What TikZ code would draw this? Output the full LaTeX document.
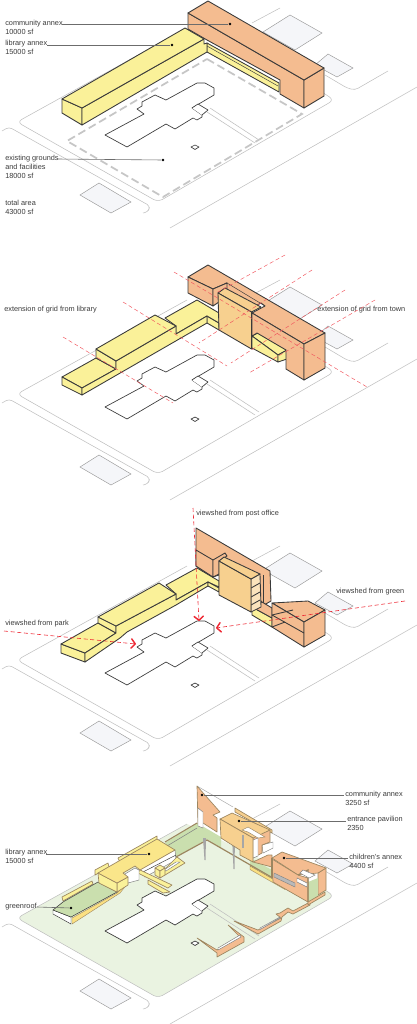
\documentclass[tikz,border=0pt]{standalone}
\usepackage{fontspec}
\setmainfont{Liberation Sans}
\usetikzlibrary{arrows.meta}
\definecolor{annex}{HTML}{F4BC90}
\definecolor{libyel}{HTML}{FAF199}
\definecolor{pavil}{HTML}{F7D08F}
\definecolor{roofgrn}{HTML}{CADFAE}
\definecolor{lotgrn}{HTML}{EAF3E1}
\definecolor{blockgry}{HTML}{F5F6F9}
\definecolor{brownw}{HTML}{9C8660}
\definecolor{viewred}{HTML}{EE2A35}
\definecolor{inkk}{HTML}{3A3A3A}
\newcommand{\sitebase}[2]{%
  \begin{scope}[shift={(0,#1)}]
    \draw[lot, fill=#2] (187,28) -- (17,122) -- (158,202) -- (334,100) -- (322,92);
    \draw[road] (280,8) -- (252,23);
    \draw[road] (2,131) -- (9,127) -- (150,206) -- (148,212) -- (143,213);
    \draw[road] (170,228) -- (417,87);
    \draw[road] (388,71) -- (355,90) -- (347,88) -- (325,75);
    \draw[road] (207,112) -- (255,143);
    \draw[road] (210,108) -- (259,140);
    \draw[blockk] (290,15) -- (322,33) -- (295,50) -- (263,32) -- cycle;
    \draw[blockk] (328,54) -- (353,68) -- (337,77) -- (315,65) -- cycle;
    \draw[blockk] (99,183) -- (131,202) -- (111,213) -- (80,195) -- cycle;
    \draw[foot] (105,135) -- (127,147) -- (166,124) -- (175,129) -- (193,118) -- (197,120) -- (202,117) -- (202,115) -- (192,108) -- (214,95) -- (214,88) -- (205,83) -- (197,83) -- (166,100) -- (155,95) -- (142,102) -- (142,106) -- (137,109) -- (144,114) -- cycle;
    \draw[foot] (192,108) -- (198,104) -- (208,110) -- (202,115);
    \draw[foot] (191,147) -- (195,145) -- (199,147) -- (195,149.5) -- cycle;
  \end{scope}}
\begin{document}
\begin{tikzpicture}[x=0.75pt, y=-0.75pt, >=Stealth]
    \tikzset{
        lot/.style={draw=gray!50, line width=0.4pt, rounded corners=4pt},
        road/.style={draw=gray!50, line width=0.4pt, rounded corners=2.5pt},
        blockk/.style={draw=gray!80, line width=0.35pt, fill=blockgry},
        foot/.style={draw=inkk, line width=0.5pt, fill=white, line join=round},
        mass/.style={draw=inkk, line width=0.65pt, line join=round},
        annexf/.style={mass, fill=annex},
        yelf/.style={mass, fill=libyel},
        pavf/.style={mass, fill=pavil},
        thinw/.style={draw=inkk, line width=0.35pt},
        yelthin/.style={draw=brownw, line width=0.5pt, fill=libyel, line join=round},
        grnf/.style={draw=inkk, line width=0.4pt, fill=roofgrn, line join=round},
        wallf/.style={draw=brownw, line width=0.5pt, fill=annex, line join=round},
        pavthin/.style={wallf, fill=pavil},
        whitef/.style={draw=gray, line width=0.35pt, fill=white},
        lbl/.style={anchor=west, align=left, inner sep=0pt, text=inkk,
            font=\fontsize{5.5}{6.8}\selectfont},
        leader/.style={draw=gray!85!black, line width=0.45pt},
        pin/.style={circle, fill=black, inner sep=0pt, minimum size=2pt},
        gridline/.style={draw=viewred!80, line width=0.35pt, densely dashed},
        viewline/.style={draw=viewred, line width=0.45pt, densely dashed,
            -{Straight Barb[length=3pt, width=7pt, line width=1.1pt, round]}},
    }
    \useasboundingbox (0,0) rectangle (417,1024);

    \sitebase{0}{white}
    \draw[draw=gray!45, line width=1.3pt, dash pattern=on 6pt off 3pt] (207,59) -- (302,114) -- (163,197) -- (67,141) -- cycle;
    \draw[annexf] (188,13) -- (304,80) -- (304,108) -- (280,94) -- (280,80) -- (207,40) -- (188,29) -- cycle;
    \draw[annexf] (304,80) -- (324,68) -- (324,96) -- (304,108) -- cycle;
    \draw[annexf] (188,13) -- (208,1) -- (324,68) -- (304,80) -- cycle;
    \draw[yelf] (207,43) -- (279,83) -- (279,92) -- (207,52) -- cycle;
    \draw[thinw] (207,46) -- (278,86);
    \draw[yelf] (62,99) -- (82,108) -- (82,125) -- (62,113) -- cycle;
    \draw[yelf] (82,108) -- (204,39) -- (204,44) -- (207,43) -- (207,52) -- (82,125) -- cycle;
    \draw[yelf] (62,99) -- (185,28) -- (204,39) -- (82,108) -- cycle;

    \node[lbl] (comm) at (5,27.5) {community annex\\10000 sf};
    \node[lbl] (lib) at (5,47.5) {library annex\\15000 sf};
    \node[lbl] (exist) at (5,167) {existing grounds\\and facilities\\18000 sf};
    \node[lbl] at (5,207.5) (total) {total area\\43000 sf};
    \node[pin] (commpin) at (230,24) {};
    \node[pin] (libpin) at (172,45) {};
    \node[pin] (existpin) at (163,160) {};
    \coordinate (commend) at (62,24);
    \coordinate (libend) at (47,45);
    \coordinate (existend) at (57,159);
    \draw[leader] (commend) -- (commpin);
    \draw[leader] (libend) -- (libpin);
    \draw[leader] (existend) -- (existpin);

    \sitebase{272}{white}
    \draw[yelf] (62,377) -- (96,358) -- (116,369) -- (82,388) -- cycle;
    \draw[yelf] (62,377) -- (82,388) -- (82,395) -- (62,385) -- cycle;
    \draw[yelf] (207,316) -- (219,323) -- (219,330) -- (207,323) -- cycle;
    \draw[yelf] (165,318) -- (197,300) -- (219,313) -- (219,323) -- (207,316) -- (176,334) -- (176,326) -- cycle;
    \draw[yelf] (96,349) -- (116,361) -- (116,369) -- (96,358) -- cycle;
    \draw[yelf] (82,388) -- (116,369) -- (116,361) -- (176,326) -- (176,334) -- (207,316) -- (207,323) -- (82,395) -- cycle;
    \draw[yelf] (96,349) -- (155,315) -- (176,326) -- (116,361) -- cycle;
    \draw[yelf] (252,336) -- (258,333) -- (287,350) -- (278,355) -- cycle;
    \draw[yelf] (252,336) -- (278,355) -- (278,362) -- (252,348) -- cycle;
    \draw[yelf] (278,355) -- (287,350) -- (287,359) -- (278,362) -- cycle;
    \draw[annexf] (208,265) -- (325,333) -- (304,344) -- (252,313) -- (265,306) -- (261,303) -- (250,309) -- (218,293) -- (225,288) -- (227,283) -- (213,289) -- (188,277) -- cycle;
    \draw[annexf] (188,277) -- (213,289) -- (213,306) -- (188,293) -- cycle;
    \draw[annexf] (213,289) -- (227,283) -- (227,290) -- (219,296) -- (219,302) -- (213,306) -- cycle;
    \draw[annexf] (252,313) -- (304,344) -- (304,380) -- (286,369) -- (286,350) -- (257,333) -- (252,336) -- cycle;
    \draw[annexf] (304,344) -- (325,333) -- (325,368) -- (304,380) -- cycle;
    \draw[pavf] (218,293) -- (225,288) -- (261,307) -- (251.5,312) -- cycle;
    \draw[pavf] (218,293) -- (251.5,312) -- (251.5,349) -- (219,330) -- cycle;
    \draw[thinw] (225,283) -- (227,283) -- (265,306);
    \node[lbl] (gridlib) at (4,309.5) {extension of grid from library};
    \node[lbl] (gridtown) at (317,309.5) {extension of grid from town};
    \foreach \ax/\ay/\bx/\by in {285/255/218/292, 312/270/199/343, 345/290/231/363, 375/300/249/373, 174/272/367/387, 123/302/227/366, 63/337/173/403}
        \draw[gridline] (\ax,\ay) -- (\bx,\by);

    \sitebase{538}{white}
    \draw[yelf] (61,644) -- (85,653) -- (85,662) -- (61,653) -- cycle;
    \draw[yelf] (61,644) -- (98,623) -- (116,633) -- (85,653) -- cycle;
    \draw[yelf] (166,585) -- (197,568) -- (219,581) -- (219,587) -- (208,582) -- (176,600) -- (176,594) -- cycle;
    \draw[yelf] (98,617) -- (116,626) -- (116,633) -- (98,623) -- cycle;
    \draw[yelf] (85,653) -- (116,633) -- (116,626) -- (176,594) -- (176,600) -- (208,582) -- (208,586) -- (176,605) -- (127,632) -- (120,638) -- (85,662) -- cycle;
    \draw[mass, fill=libyel] (208,582) -- (219,588) -- (219,592) -- (208,586) -- cycle;
    \draw[yelf] (98,617) -- (159,583) -- (176,594) -- (116,626) -- cycle;
    \draw[annexf] (196,528) -- (270,571) -- (271,601) -- (264,605) -- (261,601) -- (219,575) -- (213,577) -- (196,566) -- cycle;
    \draw[annexf] (196,550) -- (213,560) -- (213,577) -- (196,566) -- cycle;
    \draw[annexf] (213,560) -- (225,553) -- (227,556) -- (219,561) -- (219,574) -- (213,577) -- cycle;
    \draw[mass] (263,575) -- (263,604);
    \draw[yelf] (252,607) -- (272,618) -- (272,627) -- (252,615) -- cycle;
    \draw[annexf] (252,607) -- (262,602) -- (272,608) -- (272,618) -- cycle;
    \draw[mass, fill=pavil!60!white] (251,579) -- (260,574) -- (261,607) -- (251,612) -- cycle;
    \foreach \sy in {9,18,26}
        \draw[mass] (251,579+\sy) -- (260,574+\sy);
    \draw[pavf] (219,561) -- (251,579) -- (251,612) -- (219,595) -- cycle;
    \draw[pavf] (219,561) -- (224,557) -- (260,574) -- (251,579) -- cycle;
    \draw[annexf] (272,603) -- (308,601) -- (325,610) -- (304,622) -- cycle;
    \draw[annexf] (272,603) -- (304,622) -- (304,647) -- (272,627) -- cycle;
    \draw[annexf] (304,622) -- (325,610) -- (325,635) -- (304,647) -- cycle;
    \draw[mass] (272,615) -- (304,633);
    \draw[mass] (272,615) -- (293,610);
    \draw[mass] (272,627) -- (285,622);
    \node[lbl] (postlbl) at (196,514) {viewshed from post office};
    \node[lbl] (greenlbl) at (336,592) {viewshed from green};
    \node[lbl] (parklbl) at (5,624) {viewshed from park};
    \coordinate (poststart) at (193,508);
    \coordinate (posthit) at (199,621);
    \coordinate (greenstart) at (405,601);
    \coordinate (greenhit) at (216,628);
    \coordinate (parkstart) at (4,631);
    \coordinate (parkhit) at (136,644);
    \draw[viewline] (poststart) -- (posthit);
    \draw[viewline] (greenstart) -- (greenhit);
    \draw[viewline] (parkstart) -- (parkhit);

    \sitebase{796}{lotgrn}
    \fill[roofgrn] (165,843) -- (197,823) -- (221,837) -- (221,848) -- (207,839) -- (176,857) -- cycle;
    \fill[roofgrn] (250,858) -- (272,870) -- (272,880) -- (250,868) -- cycle;
    \draw[brownw, line width=0.9pt] (176,857) -- (207,840) -- (285,885);
    \draw[draw=brownw, line width=0.3pt, fill=libyel!85!orange] (250,866) -- (285,886) -- (285,889.5) -- (250,869.5) -- cycle;
    \draw[draw=brownw, line width=0.8pt] (165,842) -- (197,823);
    \draw[draw=gray, line width=0.4pt] (167,846) -- (197,828);
    % far strips on the library roof
    \draw[yelthin] (62,897) -- (92,881) -- (93,884) -- (63,901) -- cycle;
    \draw[yelthin] (95,870) -- (108,863) -- (109,867) -- (95,875) -- cycle;
    \draw[yelthin] (118,858) -- (157,836) -- (157,840) -- (120,862) -- cycle;
    % court side of the library
    \draw[whitef, fill=white] (140,868) -- (175,850) -- (176,860) -- (145,877) -- cycle;
    \draw[thinw] (143,872) -- (176,855);
    \draw[yelthin] (164,870) -- (177,857) -- (185,863) -- (165,875) -- (160,873) -- cycle;
    \draw[whitef] (164,870) -- (176,862) -- (180,862) -- (166,871) -- cycle;
    \draw[yelthin] (155,868) -- (160,865) -- (165,868) -- (160,871) -- cycle;
    \draw[yelthin] (155,868) -- (160,871) -- (160,878) -- (155,875) -- cycle;
    \draw[yelthin] (160,871) -- (165,868) -- (165,875) -- (160,878) -- cycle;
    \draw[yelthin] (140,870) -- (172,885) -- (168,888) -- (138,873) -- cycle;
    \draw[yelthin] (148,880) -- (170,892) -- (163,893) -- (148,884) -- cycle;
    % low green roof and main yellow roof
    \draw[draw=brownw, line width=0.3pt, fill=libyel!85!orange] (72,918) -- (117,893) -- (123,887) -- (128,880) -- (128,883) -- (120,893) -- (72,924) -- cycle;
    \draw[whitef, draw=inkk] (53,910) -- (71,917) -- (71,924) -- (53,914) -- cycle;
    \draw[grnf] (53,910) -- (63,902) -- (98,882) -- (117,892) -- (71,917) -- cycle;
    \draw[whitef] (125,874) -- (135,868) -- (139,870) -- (139,880) -- (128,883) -- cycle;
    \draw[yelthin] (117,883) -- (128,877) -- (128,885) -- (117,892) -- cycle;
    \draw[yelthin] (98,873) -- (117,883) -- (117,892) -- (99,883) -- cycle;
    \draw[yelthin, fill=libyel!90!orange] (98,873) -- (157,839) -- (175,850) -- (140,870) -- (135,866) -- (123,873) -- (128,877) -- (117,883) -- cycle;
    % pavilion, wall and trees
    \foreach \cx/\cy/\cb in {203/838/860, 232/836/869}
        \fill[gray!70] (\cx,\cy) -- (\cx+3,\cy) -- (\cx+2.5,\cb) -- (\cx+1.5,\cb) -- cycle;
    \draw[draw=gray!70, line width=0.35pt] (197,786) -- (233,807);
    \draw[wallf] (197,786) -- (220,812) -- (213,815) -- (217,818) -- (217,832) -- (203,823) -- (198,824) -- cycle;
    \draw[whitef] (198,808) -- (203,812) -- (203,828) -- (198,826) -- cycle;
    \draw[pavthin] (235,808) -- (272,830) -- (272,833) -- (235,812) -- cycle;
    \draw[whitef] (247,821) -- (262,830) -- (260,831) -- (246,823) -- cycle;
    \draw[whitef] (262,845) -- (273,842) -- (273,848) -- (263,853) -- cycle;
    \draw[wallf] (253,862) -- (268,855) -- (272,855) -- (272,867) -- cycle;
    \draw[wallf] (253,837) -- (270,830) -- (270,842) -- (262,845) -- (262,853) -- (253,858) -- cycle;
    \draw[whitef] (253,840) -- (258,838) -- (258,856) -- (253,858) -- cycle;
    \draw[pavthin] (220,819) -- (232,813) -- (270,830) -- (253,838) -- cycle;
    \draw[pavthin] (220,819) -- (253,838) -- (253,862) -- (240,855) -- (240,850) -- (221,838) -- cycle;
    \draw[whitef, draw=brownw] (242,830) -- (248,827) -- (265,837) -- (258,838) -- (248,832) -- cycle;
    \fill[gray!70] (242,835) rectangle (244,848);
    % childrens annex
    \draw[wallf] (318,873) -- (326,868) -- (326,890) -- (318,895) -- cycle;
    \fill[roofgrn] (308,882) -- (318,878) -- (318,897) -- (308,902) -- cycle;
    \draw[wallf] (272,858) -- (282,852) -- (326,868) -- (318,873) -- (298,875) -- cycle;
    \draw[wallf] (272,859) -- (298,875) -- (308,878) -- (308,902) -- (273,882) -- cycle;
    \draw[draw=brownw, line width=0.9pt] (272,858) -- (272,878);
    \draw[draw=brownw, line width=0.9pt] (298,875) -- (308,870) -- (308,902);
    \draw[whitef] (303,870) -- (315,875) -- (309,878) -- (300,873) -- cycle;
    \draw[whitef] (297,878) -- (307,883) -- (307,887) -- (297,882) -- cycle;
    \draw[draw=gray, fill=gray!55, line width=0.3pt] (274,873) -- (295,883) -- (295,887) -- (274,877) -- cycle;
    % low walls in the grounds
    \draw[wallf] (197,938) -- (217,950) -- (240,937) -- (228,925) -- (244,937) -- (244,942) -- (217,957) -- (217,953) -- cycle;
    \draw[whitef] (218,948) -- (240,935) -- (241,937) -- (218,950) -- cycle;
    \draw[wallf] (234,921) -- (258,930) -- (281,918) -- (276,914) -- (280,913) -- (288,908) -- (293,911) -- (310,902) -- (310,905) -- (293,914) -- (288,912) -- (282,917) -- (281,921) -- (258,934) -- cycle;
    \draw[whitef] (260,928) -- (280,917) -- (280,918) -- (260,929.5) -- cycle;
    \draw[wallf] (308,902) -- (325,892) -- (325,895) -- (308,905) -- cycle;
    \node[lbl] (commf) at (345,798) {community annex\\3250 sf};
    \node[lbl] (entr) at (347,823.5) {entrance pavilion\\2350};
    \node[lbl] (child) at (349,861.5) {children's annex\\4400 sf};
    \node[lbl] (libf) at (5,856.5) {library annex\\15000 sf};
    \node[lbl] (groof) at (5,907) {greenroof};
    \node[pin] (commfpin) at (202,795) {};
    \node[pin] (entrpin) at (239,821) {};
    \node[pin] (childpin) at (284,858) {};
    \node[pin] (libfpin) at (149,854) {};
    \node[pin] (groofpin) at (71,908) {};
    \coordinate (commfend) at (344,795);
    \coordinate (entrend) at (346,821);
    \coordinate (childend) at (348,858);
    \coordinate (libfend) at (46,854);
    \draw[leader] (commfend) -- (commfpin);
    \draw[leader] (entrend) -- (entrpin);
    \draw[leader] (childend) -- (childpin);
    \draw[leader] (libfend) -- (libfpin);
    \draw[leader] (groof.east) -- (groofpin);
\end{tikzpicture}
\end{document}
